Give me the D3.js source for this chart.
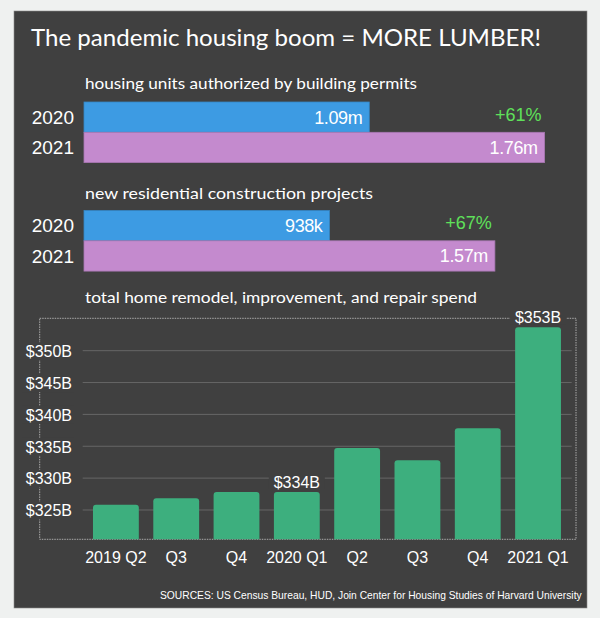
<!DOCTYPE html>
<html><head><meta charset="utf-8">
<script src="https://cdn.jsdelivr.net/npm/d3@7"></script>
<style>
html,body{margin:0;padding:0;background:#eff1f0;}
svg{display:block;}
</style></head>
<body>
<script>
// ---- data ----
const years = ["2020", "2021"];
const permits = [1.09, 1.76];
const permitLabels = ["1.09m", "1.76m"];
const permitChange = "+61%";
const projects = [0.938, 1.57];
const projectLabels = ["938k", "1.57m"];
const projectChange = "+67%";
const quarters = ["2019 Q2", "Q3", "Q4", "2020 Q1", "Q2", "Q3", "Q4", "2021 Q1"];
const spend = [325.83, 326.84, 327.82, 327.82, 334.73, 332.80, 337.82, 353.67];
const spendTicks = [325, 330, 335, 340, 345, 350];
const spendCallouts = [{i: 3, text: "$334B"}, {i: 7, text: "$353B"}];

const W = 600, H = 618;
const panelColor = "#404040";
const handFont = "Lato, 'Open Sans', sans-serif";
const numFont = "'Liberation Sans', Arial, sans-serif";

const svg = d3.select("body").append("svg").attr("width", W).attr("height", H);
svg.append("rect").attr("width", W).attr("height", H).attr("fill", "#eff1f0");
svg.append("rect").attr("x", 14).attr("y", 11).attr("width", 573).attr("height", 597)
  .attr("fill", panelColor).attr("stroke", "#8a8a8a").attr("stroke-width", 0.6);

// fit text to a target width by adjusting font size
function fitText(sel, targetW) {
  const fs = parseFloat(sel.attr("font-size"));
  const w = sel.node().getComputedTextLength();
  if (w > 0) sel.attr("font-size", (fs * targetW / w).toFixed(2));
  return sel;
}

// title
svg.append("text").attr("x", 31).attr("y", 45.7)
  .attr("font-family", handFont).attr("font-size", 23).attr("fill", "#fff")
  .attr("textLength", 510).attr("lengthAdjust", "spacingAndGlyphs")
  .text("The pandemic housing boom = MORE LUMBER!");

// ---- horizontal bar groups ----
const xH = d3.scaleLinear().domain([0, 1.76]).range([84, 544.6]);
const barColors = ["#3d9be3", "#c48ace"];
const barStroke = ["#3586c4", "#a877b2"];

function hGroup(subtitle, subW, subY, top, vals, labels, change) {
  svg.append("text").attr("x", 85).attr("y", subY)
    .attr("font-family", handFont).attr("font-size", 16).attr("fill", "#fff")
    .attr("textLength", subW).attr("lengthAdjust", "spacingAndGlyphs")
    .text(subtitle);
  const yB = d3.scaleBand().domain(years).range([top, top + 60.6]).padding(0);
  const g = svg.append("g");
  g.selectAll("rect").data(vals).join("rect")
    .attr("x", xH(0)).attr("y", (d, i) => yB(years[i]))
    .attr("width", d => xH(d) - xH(0)).attr("height", yB.bandwidth())
    .attr("fill", (d, i) => barColors[i]).attr("stroke", (d, i) => barStroke[i]).attr("stroke-width", 0.8);
  g.selectAll("text.val").data(vals).join("text").attr("class", "val")
    .attr("x", d => xH(d) - 7).attr("y", (d, i) => yB(years[i]) + yB.bandwidth() / 2 + 6.5)
    .attr("text-anchor", "end").attr("font-family", numFont).attr("font-size", 18)
    .attr("letter-spacing", -0.4).attr("fill", "#fff")
    .text((d, i) => labels[i]);
  g.selectAll("text.yr").data(years).join("text").attr("class", "yr")
    .attr("x", 74).attr("y", d => yB(d) + yB.bandwidth() / 2 + 6.8)
    .attr("text-anchor", "end").attr("font-family", numFont).attr("font-size", 19)
    .attr("fill", "#fff").text(d => d);
  g.append("text").attr("x", xH(vals[1]) - 3).attr("y", yB(years[0]) + 18.5)
    .attr("text-anchor", "end").attr("font-family", numFont).attr("font-size", 18)
    .attr("fill", "#5fe05a").text(change);
}
hGroup("housing units authorized by building permits", 332, 89.3, 102, permits, permitLabels, permitChange);
hGroup("new residential construction projects", 288, 199.3, 210.5, projects, projectLabels, projectChange);

// ---- vertical bar chart ----
svg.append("text").attr("x", 85).attr("y", 302.7)
  .attr("font-family", handFont).attr("font-size", 16).attr("fill", "#fff")
  .attr("textLength", 392).attr("lengthAdjust", "spacingAndGlyphs")
  .text("total home remodel, improvement, and repair spend");

const x = d3.scaleBand().domain(d3.range(quarters.length)).range([85.75, 568.2])
  .paddingInner(0.24).paddingOuter(0.12);
const y = d3.scaleLinear().domain([320.4, 355.08]).range([539.3, 318.3]);

// gridlines
svg.append("g").selectAll("line").data(spendTicks).join("line")
  .attr("x1", 82.7).attr("x2", 571.7).attr("y1", d => y(d)).attr("y2", d => y(d))
  .attr("stroke", "#666").attr("stroke-width", 1);

// dotted frame
svg.append("rect").attr("x", 39.7).attr("y", 318.3).attr("width", 576 - 39.7).attr("height", 539.3 - 318.3)
  .attr("fill", "none").attr("stroke", "#a9a9a9").attr("stroke-width", 1).attr("stroke-dasharray", "1.5,1");

// bars (rounded top)
function topRounded(x0, y0, w, h, r) {
  return `M${x0},${y0 + h}V${y0 + r}Q${x0},${y0} ${x0 + r},${y0}H${x0 + w - r}Q${x0 + w},${y0} ${x0 + w},${y0 + r}V${y0 + h}Z`;
}
svg.append("g").selectAll("path").data(spend).join("path")
  .attr("d", (d, i) => topRounded(x(i), y(d), x.bandwidth(), y.range()[0] - y(d), 3))
  .attr("fill", "#3daf7e");

// y axis
const yAxis = svg.append("g").attr("transform", "translate(72,0)")
  .call(d3.axisLeft(y).tickValues(spendTicks).tickSize(0).tickPadding(0).tickFormat(d => `$${d}B`));
yAxis.select(".domain").remove();
yAxis.selectAll(".tick text").attr("font-family", numFont).attr("font-size", 16).attr("fill", "#fff")
  .attr("dy", "0.36em");
yAxis.selectAll(".tick").insert("rect", "text")
  .attr("x", -50).attr("y", -9).attr("width", 52).attr("height", 18).attr("fill", panelColor);

// x axis
const xAxis = svg.append("g").attr("transform", "translate(0,539.3)")
  .call(d3.axisBottom(x).tickSize(0).tickPadding(0).tickFormat(i => quarters[i]));
xAxis.select(".domain").remove();
xAxis.selectAll(".tick text").attr("font-family", numFont).attr("font-size", 16).attr("fill", "#fff")
  .attr("dy", 0).attr("y", 24);

// callouts
const co = svg.append("g").selectAll("g").data(spendCallouts).join("g");
co.append("rect")
  .attr("x", d => x(d.i) + x.bandwidth() / 2 - 28).attr("y", d => y(spend[d.i]) - 17)
  .attr("width", 56).attr("height", 14).attr("fill", panelColor);
co.append("text")
  .attr("x", d => x(d.i) + x.bandwidth() / 2).attr("y", d => y(spend[d.i]) - 4.5)
  .attr("text-anchor", "middle").attr("font-family", numFont).attr("font-size", 16)
  .attr("fill", "#fff").text(d => d.text);

// source
const src = svg.append("text").attr("x", 160).attr("y", 599.3)
  .attr("font-family", "'Liberation Sans Narrow', 'Liberation Sans', sans-serif").attr("font-size", 12)
  .attr("fill", "#fff")
  .text("SOURCES: US Census Bureau, HUD, Join Center for Housing Studies of Harvard University");
fitText(src, 422);
</script>
</body></html>
